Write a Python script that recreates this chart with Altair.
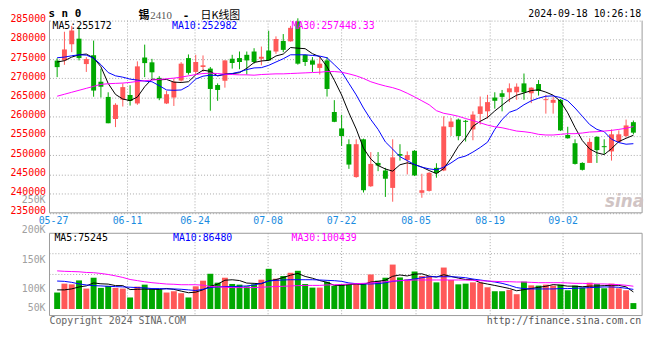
import altair as alt
import pandas as pd

# ---------------- data ----------------
OPEN = [274600, 274650, 278850, 280300, 273700, 276000, 269100, 265150, 259400, 264450,
        265650, 263450, 275400, 274150, 270100, 263450, 265000, 269400, 275250, 271660,
        272940, 272520, 268240, 269350, 275080, 275250, 276100, 276960, 275080, 277220,
        276960, 279700, 279610, 284800, 276100, 274650, 272690, 274650, 261230, 256960,
        252850, 244300, 254130, 241910, 247980, 246010, 241480, 250290, 248750, 251140,
        240200, 240710, 246700, 246010, 257300, 259260, 258930, 256700, 260720, 261400,
        264990, 266100, 266360, 266360, 268670, 266100, 268500, 264310, 263620, 264400,
        255250, 253110, 247980, 247980, 254730, 252340, 250970, 253450, 254990, 258580]
CLOSE = [272900, 277500, 282430, 275250, 275000, 266800, 267800, 258300, 263100, 267700,
         264100, 273100, 273950, 271550, 264800, 265850, 269100, 273800, 271400, 274230,
         273370, 267220, 266960, 274650, 273970, 274230, 274650, 274230, 275590, 274650,
         280210, 277390, 283120, 273800, 274230, 273540, 273800, 267220, 258670, 254990,
         247550, 252850, 240880, 247720, 247290, 243870, 249430, 249860, 250030, 244730,
         240880, 245410, 245330, 257470, 258750, 254990, 258670, 260550, 262690, 263800,
         264140, 265160, 267390, 267810, 266360, 267560, 266700, 264570, 264400, 256440,
         254390, 247720, 246180, 253450, 251310, 252080, 255420, 255420, 257730, 255850]
HIGH = [275200, 282100, 283630, 283400, 275500, 279800, 272500, 266350, 263500, 268650,
        268200, 274400, 278750, 275050, 270550, 266700, 269950, 274200, 276200, 276100,
        275940, 272940, 268670, 274650, 276100, 276960, 276960, 277820, 278250, 282350,
        280900, 281500, 283630, 285600, 276200, 275510, 275510, 275510, 264310, 260500,
        254130, 254130, 254300, 250800, 250800, 246700, 254130, 252850, 250970, 251310,
        245160, 245580, 247890, 260120, 259700, 259520, 259180, 261400, 265250, 265680,
        266360, 266960, 268670, 268670, 271240, 267650, 269530, 265680, 265250, 264570,
        257380, 254130, 248150, 254390, 254990, 254130, 256700, 256440, 259260, 259010]
LOW = [270300, 273500, 276800, 274650, 271650, 265200, 265000, 258300, 257300, 262650,
       262900, 263100, 270300, 269950, 264300, 263300, 262800, 269100, 270950, 270980,
       271660, 261570, 264140, 267560, 272520, 272350, 270980, 273800, 273370, 274570,
       276360, 276790, 279530, 273540, 273200, 271660, 270980, 265250, 258580, 252420,
       246440, 244130, 240280, 241740, 245840, 239140, 237890, 248580, 244990, 244560,
       238920, 240540, 244130, 245840, 254990, 253880, 253540, 253880, 257980, 259520,
       262090, 261400, 263800, 264400, 264400, 263540, 265500, 260800, 260800, 256270,
       254300, 247550, 246010, 247980, 247980, 250290, 248580, 253280, 254560, 255420]
MA5 = [274230, 274570, 275510, 276110, 276300, 275300, 273000, 268650, 265800, 264600,
       264200, 265100, 267800, 269800, 269600, 269700, 269000, 268900, 269100, 270900,
       272100, 271800, 270600, 271100, 271200, 271450, 272600, 274100, 274500, 274660,
       275800, 276300, 278000, 277830, 277700, 276400, 275600, 273000, 269500, 265650,
       261000, 256800, 251800, 249000, 247300, 246400, 245840, 247500, 248000, 247570,
       246900, 246000, 245200, 246500, 249200, 252300, 254500, 257500, 258800, 259800,
       261500, 263000, 264500, 265600, 266170, 266800, 267000, 266400, 265600, 264000,
       261000, 257200, 253800, 251640, 250610, 250150, 251690, 253540, 254390, 255172]
MA10 = [275340, 275510, 275850, 276110, 276020, 275250, 273540, 271490, 270640, 270290,
        269780, 269520, 269270, 269100, 268070, 266960, 266870, 266960, 267990, 269800,
        270550, 270810, 270720, 270980, 271240, 271660, 272260, 272690, 272770, 273370,
        274230, 275080, 276110, 276110, 276110, 275940, 275770, 275340, 273540, 271700,
        268670, 265680, 262260, 259270, 256700, 253450, 251570, 249600, 248580, 247550,
        246870, 246440, 246180, 246870, 247980, 249260, 249770, 250800, 252000, 253370,
        256700, 259270, 261150, 261830, 263110, 264140, 264820, 265330, 265420, 264990,
        264140, 262260, 260120, 257980, 256700, 256100, 254140, 253280, 252850, 252982]
MA30 = [265335, 265848, 266361, 266874, 267387, 267900, 268413, 268584, 268670, 268755,
        268926, 269182, 269354, 269525, 269696, 269867, 270038, 270294, 270636, 270978,
        271235, 271320, 271235, 271064, 270978, 270893, 270893, 270807, 270978, 271064,
        271149, 271149, 271235, 271320, 271406, 271491, 271577, 271748, 271748, 271577,
        271149, 270636, 269952, 269097, 268499, 267986, 267558, 266960, 266105, 265164,
        264138, 263112, 261573, 260889, 260547, 260120, 259521, 259008, 258410, 257811,
        257384, 257127, 256700, 256272, 256101, 255845, 255417, 255246, 255246, 255417,
        255588, 255588, 255759, 256016, 256101, 256272, 256443, 256700, 257000, 257448]
# volume, thousands of lots
VOLUME = [72.6, 111.7, 108.7, 126.0, 90.0, 137.8, 93.0, 101.7, 93.0, 90.0,
          50.9, 98.7, 107.4, 87.0, 87.0, 72.6, 78.3, 69.6, 50.9, 100.0,
          124.8, 155.2, 116.0, 137.8, 110.4, 107.4, 100.0, 108.7, 129.0, 177.0,
          133.5, 145.2, 159.6, 168.3, 110.4, 94.3, 94.3, 120.0, 101.7, 110.0,
          110.4, 110.4, 110.4, 152.2, 124.8, 137.8, 195.7, 139.1, 130.4, 165.2,
          145.2, 145.2, 117.4, 182.6, 127.8, 108.7, 111.7, 117.4, 116.1, 95.7,
          78.3, 78.3, 84.3, 65.2, 120.4, 104.3, 103.0, 107.4, 103.0, 107.4,
          82.6, 103.0, 94.3, 116.1, 110.4, 91.3, 111.7, 91.3, 82.6, 26.1]
VMA5 = [84.3, 84.3, 88.6, 97.2, 101.8, 114.8, 111.1, 109.7, 103.1, 103.1,
        85.7, 86.9, 88.0, 86.8, 86.2, 90.5, 86.5, 78.9, 71.7, 74.3,
        84.7, 100.1, 109.4, 126.8, 128.8, 125.4, 114.3, 112.9, 111.1, 124.4,
        129.6, 138.7, 148.9, 156.7, 143.4, 135.6, 125.4, 117.5, 104.1, 104.1,
        107.3, 110.5, 108.6, 118.7, 121.6, 127.1, 144.2, 149.9, 145.6, 153.6,
        155.1, 145.0, 140.7, 151.1, 143.6, 136.3, 129.6, 129.6, 116.3, 109.9,
        103.8, 97.2, 90.5, 80.4, 85.3, 90.5, 95.4, 100.1, 107.6, 105.0,
        100.7, 100.7, 98.1, 100.7, 101.3, 103.0, 104.8, 104.2, 97.5, 75.2]
VMA10 = [123.2, 121.8, 117.4, 110.4, 106.0, 103.0, 101.7, 100.0, 98.7, 97.5,
         96.0, 94.3, 93.0, 90.0, 90.0, 88.4, 88.4, 87.0, 84.3, 81.4,
         87.0, 94.3, 97.5, 98.7, 98.7, 100.0, 101.7, 106.0, 113.0, 123.2,
         126.2, 127.8, 129.0, 129.0, 129.0, 129.0, 127.8, 126.2, 124.8, 121.8,
         114.8, 111.7, 110.4, 110.4, 111.7, 116.0, 121.8, 124.8, 127.8, 132.0,
         137.8, 142.2, 142.2, 142.2, 142.2, 140.6, 137.8, 132.0, 127.8, 123.2,
         119.0, 113.0, 104.4, 94.3, 90.0, 88.4, 88.4, 88.4, 88.4, 90.0,
         90.0, 91.3, 92.8, 94.3, 95.7, 97.2, 97.2, 95.7, 91.3, 86.5]
VMA30 = [168.0, 166.0, 165.0, 164.0, 161.0, 160.0, 156.5, 152.0, 146.0, 139.0,
         130.0, 125.0, 120.0, 116.0, 113.0, 110.0, 109.0, 107.0, 107.0, 107.0,
         105.0, 99.0, 97.5, 96.0, 94.3, 94.3, 94.3, 94.3, 96.0, 97.5,
         99.0, 100.0, 101.7, 103.0, 104.0, 104.0, 104.0, 106.0, 107.0, 108.0,
         110.0, 111.7, 113.0, 114.8, 117.4, 120.4, 123.2, 124.8, 126.2, 127.8,
         127.8, 127.8, 127.8, 127.8, 127.8, 127.8, 127.8, 126.2, 124.8, 123.2,
         121.8, 120.4, 120.4, 119.0, 119.0, 117.4, 116.0, 116.0, 116.0, 116.0,
         114.8, 113.0, 113.0, 111.7, 110.4, 110.4, 108.8, 107.4, 104.6, 100.4]

DATE_TICKS = ["05-27", "06-11", "06-24", "07-08", "07-22", "08-05", "08-19", "09-02"]
DATE_TICK_POS = [-0.5, 9.65, 18.9, 28.92, 39.0, 49.2, 59.37, 69.36]   # in candle-index units
PRICE_TICKS = [235000, 240000, 245000, 250000, 255000, 260000, 265000, 270000, 275000, 280000, 285000]
VOL_TICK_LABELS = ["250K", "200K", "150K", "100K", "50K"]
PRICE_LEGEND = ["MA5:255172", "MA10:252982", "MA30:257448.33"]
VOL_LEGEND = ["MA5:75245", "MA10:86480", "MA30:100439"]
TITLE_PARTS = ["锡", "2410", "-", "日K线图"]
SYMBOL = "s n 0"
STAMP = "2024-09-18 10:26:18"
COPYRIGHT = "Copyright 2024 SINA.COM"
URL = "http://finance.sina.com.cn"

# ---------------- layout / style ----------------
W, H = 600, 298.6          # plot area: abs x 50..650, y 18.7..317.3
MAIN_H = 194.6             # price panel bottom
VOL_TOP = 215.3            # volume panel top
VOL_ZERO = 292.0           # volume baseline
VOL_PX_PER_K = 0.23
X_FIRST, X_STEP = 2.8, 7.51
VOL_LABEL_Y = [182.1, 212.5, 242.5, 271.8, 291.3]
VOL_GRID_Y = [236.0, 257.0]
MONO = "DejaVu Sans Mono"
CJK = "Noto Sans CJK SC"
RED, GREEN = "#FF5858", "#00A800"
FRAME, GRID = "#9a9a9a", "#a8a8a8"
DATE_BLUE = "#1a8ce0"

n = len(CLOSE)
df = pd.DataFrame({
    "i": list(range(n)), "open": OPEN, "close": CLOSE, "high": HIGH, "low": LOW,
    "ma5": MA5, "ma10": MA10, "ma30": MA30,
    "vol": [v * 1000 for v in VOLUME], "vma5": [v * 1000 for v in VMA5],
    "vma10": [v * 1000 for v in VMA10], "vma30": [v * 1000 for v in VMA30],
})
df["dir"] = ["up" if c >= o else "down" for o, c in zip(OPEN, CLOSE)]
df["zero"] = 0

x_scale = alt.Scale(domain=[-X_FIRST / X_STEP, (W - X_FIRST) / X_STEP], nice=False, zero=False)
P_TOP, P_BOT = PRICE_TICKS[-1], PRICE_TICKS[0]
p_lo = P_TOP - H / MAIN_H * (P_TOP - P_BOT)
price_scale = alt.Scale(domain=[p_lo, P_TOP], nice=False, zero=False)
vol_scale = alt.Scale(domain=[-(H - VOL_ZERO) / VOL_PX_PER_K * 1000, VOL_ZERO / VOL_PX_PER_K * 1000],
                      nice=False, zero=False)
X = alt.X("i:Q", scale=x_scale, axis=None)
dir_color = alt.Color("dir:N", scale=alt.Scale(domain=["up", "down"], range=[RED, GREEN]), legend=None)

price_axis = alt.Axis(values=PRICE_TICKS, orient="left", grid=True, gridColor=GRID, gridDash=[1, 2],
                      gridOpacity=1, gridWidth=1, ticks=False, domain=False, labelColor="#FF0000",
                      labelFont=MONO, labelFontSize=10, labelPadding=4, labelOffset=-2,
                      labelFlush=False, labelOverlap=False, labelBound=False, format="d", title=None)

base = alt.Chart(df)
wick = base.mark_rule(strokeWidth=1).encode(
    x=X, y=alt.Y("low:Q", scale=price_scale, axis=price_axis), y2="high:Q", color=dir_color)
body = base.mark_bar(size=5).encode(
    x=X, y=alt.Y("open:Q", scale=price_scale, axis=None), y2="close:Q", color=dir_color)


def line(field, col, scale):
    return base.mark_line(strokeWidth=1, color=col).encode(
        x=X, y=alt.Y(f"{field}:Q", scale=scale, axis=None))


vbars = base.mark_bar(size=6).encode(
    x=X, y=alt.Y("vol:Q", scale=vol_scale, axis=None), y2="zero:Q", color=dir_color)

one = alt.Chart(pd.DataFrame({"a": [0]}))


def vrule(x, y1, y2, col=FRAME, dash=None):
    kw = {"strokeDash": dash} if dash else {}
    return one.mark_rule(color=col, strokeWidth=1, **kw).encode(
        x=alt.value(x), y=alt.value(y1), y2=alt.value(y2))


def hrule(y, col=FRAME, dash=None):
    kw = {"strokeDash": dash} if dash else {}
    return one.mark_rule(color=col, strokeWidth=1, **kw).encode(
        x=alt.value(0), x2=alt.value(W), y=alt.value(y))


def label(txt, x, y, col, align="left", size=10, font=MONO, weight="normal",
          baseline="alphabetic", style="normal"):
    return one.mark_text(text=txt, color=col, align=align, baseline=baseline, fontSize=size,
                         font=font, fontWeight=weight, fontStyle=style).encode(
        x=alt.value(x), y=alt.value(y))


ticks_df = pd.DataFrame({"pos": DATE_TICK_POS, "lab": DATE_TICKS})
vgrid_main = alt.Chart(ticks_df.iloc[1:]).mark_rule(color=GRID, strokeDash=[1, 2]).encode(
    x=alt.X("pos:Q", scale=x_scale, axis=None), y=alt.value(0), y2=alt.value(MAIN_H))
vgrid_vol = alt.Chart(ticks_df.iloc[1:]).mark_rule(color=GRID, strokeDash=[1, 2]).encode(
    x=alt.X("pos:Q", scale=x_scale, axis=None), y=alt.value(VOL_TOP), y2=alt.value(H))
date_labels = alt.Chart(ticks_df).mark_text(color=DATE_BLUE, font=MONO, fontSize=10,
                                            baseline="middle", align="center").encode(
    x=alt.X("pos:Q", scale=x_scale, axis=None), y=alt.value(MAIN_H + 8.5), text="lab:N")

TY = -1.4   # title baseline (relative to plot top)
layers = [
    vgrid_main, vgrid_vol,
    hrule(VOL_GRID_Y[0], GRID, [1, 2]), hrule(VOL_GRID_Y[1], GRID, [1, 2]),
    wick, body,
    line("ma5", "#000000", price_scale), line("ma10", "#0000FF", price_scale),
    line("ma30", "#FF00FF", price_scale),
    vbars,
    line("vma5", "#000000", vol_scale), line("vma10", "#0000FF", vol_scale),
    line("vma30", "#FF00FF", vol_scale),
    # frames
    vrule(0, 0, MAIN_H), vrule(W, 0, MAIN_H), hrule(MAIN_H),
    vrule(0, VOL_TOP, H), vrule(W, VOL_TOP, H), hrule(VOL_TOP), hrule(H),
    date_labels,
    # legends
    label(PRICE_LEGEND[0], 3, 8.6, "#000000"), label(PRICE_LEGEND[1], 124, 8.6, "#0000FF"),
    label(PRICE_LEGEND[2], 245, 8.6, "#FF00FF"),
    label(VOL_LEGEND[0], 5, 223.3, "#000000"), label(VOL_LEGEND[1], 125, 223.3, "#0000FF"),
    label(VOL_LEGEND[2], 245, 223.3, "#FF00FF"),
    # header / footer
    label(SYMBOL, -1, -4, "#000000", size=11, weight="bold"),
    label(TITLE_PARTS[0], 90, TY, "#000000", size=11, font=CJK, weight="bold"),
    label(TITLE_PARTS[1], 102, TY, "#555555", size=11, font="Liberation Serif"),
    label(TITLE_PARTS[2], 135, TY, "#000000", size=11, font=MONO, weight="bold"),
    label(TITLE_PARTS[3], 153, TY, "#000000", size=11, font=CJK),
    label(STAMP, 599, -4, "#000000", align="right"),
    label(COPYRIGHT, 0, 307.3, "#666666"),
    label(URL, 599, 307.3, "#555555", align="right"),
    label("sina", 602, 189, "#d0c4c4", align="right", size=17, font="DejaVu Sans",
          weight="bold", style="italic"),
]
for txt, yy in zip(VOL_TICK_LABELS, VOL_LABEL_Y):
    layers.append(label(txt, -4, yy, "#a0a0a0", align="right", baseline="middle"))

chart = alt.layer(*layers).resolve_scale(y="independent").properties(
    width=W, height=H,
    autosize=alt.AutoSizeParams(type="none"),
    padding={"left": 42, "top": 10.7, "right": 10, "bottom": 24},
    background="white",
).configure_view(stroke=None)

chart.save("out.html", embed_options={"renderer": "svg", "actions": False})
